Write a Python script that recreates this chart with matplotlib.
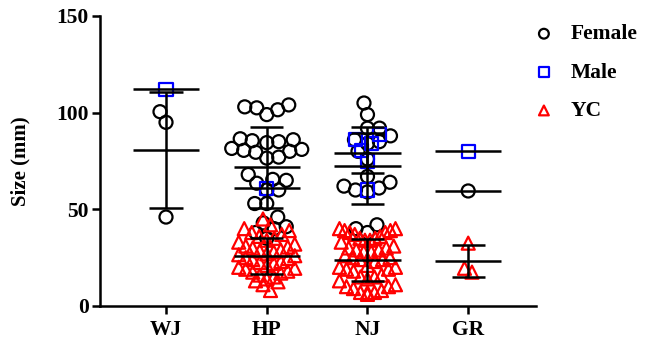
import numpy as np
import matplotlib.pyplot as plt

plt.rcParams['font.family'] = ['Liberation Serif', 'DejaVu Serif']
plt.rcParams['font.weight'] = 'bold'

categories = ["WJ", "HP", "NJ", "GR"]

wj_female = [100.5, 95, 46]
wj_male = [112]
wj_yc = []

hp_female = [104, 103, 102.5, 101.5, 99, 86.5, 86, 85.5, 85, 84.5, 81.5, 81, 80.5, 80, 79.5,
             77, 76.5, 68, 65.5, 65, 63.5, 60, 60, 53, 53, 46, 43, 41, 40, 38, 35]
hp_male = [61]
hp_yc = [8, 11, 12.5, 13, 14, 15, 16, 17, 17.5, 18, 19, 19.5, 20, 21, 22, 22.5, 23, 24, 24.5, 25,
         26, 26.5, 27, 28, 28.5, 29, 30, 30.5, 31, 32, 33, 34, 35, 36, 37, 38, 39, 40, 42, 45]

nj_female = [105, 99, 92, 92, 88, 86, 85, 84, 80, 76, 67, 64, 62, 61, 60, 59, 42, 40, 38]
nj_male = [88.5, 86, 84, 80.5, 75, 60]
nj_yc = [40, 40, 39, 39, 38, 38, 37, 36, 35, 35, 34, 34, 33, 31, 30, 30, 29, 29, 28, 28,
         26, 25, 25, 24, 24, 23, 21, 20, 20, 19, 19, 18, 16, 15, 15, 14, 13, 11, 10, 10,
         9, 8, 7, 7, 6, 7]

gr_female = [59.5]
gr_male = [80]
gr_yc = [32.5, 17.5, 19.5]

female = [wj_female, hp_female, nj_female, gr_female]
male = [wj_male, hp_male, nj_male, gr_male]
yc = [wj_yc, hp_yc, nj_yc, gr_yc]


def swarm_offsets(values, min_d, ypx):
    # beeswarm in pixel space, returns x offsets in pixels
    vals = np.asarray(values, dtype=float)
    offs = np.zeros(len(vals))
    placed = []
    side = -1
    for i in np.argsort(vals, kind="stable"):
        y = vals[i] * ypx
        k = 0
        x = None
        while x is None:
            cands = [0.0] if k == 0 else [side * k * 0.5, -side * k * 0.5]
            for c in cands:
                if all((c - px) ** 2 + (y - py) ** 2 >= min_d ** 2 for px, py in placed):
                    x = c
                    break
            k += 1
        if x != 0:
            side = -np.sign(x)
        placed.append((x, y))
        offs[i] = x
    return offs


def row_offsets(values, bin_px, ypx, spacing, max_width):
    # values binned in y, each bin spread sideways, rows squeezed to max_width
    vals = np.asarray(values, dtype=float)
    bins = np.floor(vals * ypx / bin_px).astype(int)
    offs = np.zeros(len(vals))
    for b in np.unique(bins):
        idx = np.where(bins == b)[0]
        idx = idx[np.argsort(vals[idx], kind="stable")]
        n = len(idx)
        step = spacing if n < 2 else min(spacing, max_width / (n - 1))
        pos = (np.arange(n) - (n - 1) / 2) * step
        pos = pos[np.argsort(np.abs(pos) + 1e-6 * np.arange(n)[::-1], kind="stable")]
        offs[idx] = pos
    return offs


fig = plt.figure(figsize=(6.47, 3.47), dpi=100)
ax = fig.add_axes([0.1546, 0.1182, 0.674, 0.8357])
ax.set_xlim(-0.655, 3.674)
ax.set_ylim(0, 150)

# pixels per data unit
p0 = ax.transData.transform((0, 0))
p1 = ax.transData.transform((1, 1))
xpx = p1[0] - p0[0]
ypx = p1[1] - p0[1]

styles = [
    ("Female", female, "o", "black"),
    ("YC", yc, "^", "#ff0000"),
    ("Male", male, "s", "#0000ff"),
]

handles = {}
for label, groups, marker, color in styles:
    for idx, vals in enumerate(groups):
        if len(vals) == 0:
            continue
        if marker == "^":
            offs = row_offsets(vals, 13, ypx, 7.5, 56)
        else:
            offs = swarm_offsets(vals, 12, ypx)
        h = ax.scatter(idx + offs / xpx, vals, s=88, marker=marker, facecolors="none",
                       edgecolors=color, linewidths=1.6, zorder=2, label=label)
        handles[label] = h

        mean = np.mean(vals)
        ax.hlines(mean, idx - 0.328, idx + 0.328, color="black", lw=1.8, zorder=3)
        if len(vals) > 1:
            sd = np.std(vals, ddof=1)
            ax.vlines(idx, mean - sd, mean + sd, color="black", lw=1.8, zorder=3)
            ax.hlines([mean - sd, mean + sd], idx - 0.164, idx + 0.164, color="black", lw=1.8, zorder=3)

ax.spines["top"].set_visible(False)
ax.spines["right"].set_visible(False)
ax.spines["left"].set_linewidth(1.8)
ax.spines["bottom"].set_linewidth(1.8)
ax.set_xticks(range(len(categories)))
ax.set_xticklabels(categories)
ax.set_yticks([0, 50, 100, 150])
ax.tick_params(axis="both", width=1.8, length=6, labelsize=15.5)
ax.tick_params(axis="x", pad=4)
ax.tick_params(axis="y", pad=2)
ax.set_ylabel("Size (mm)", fontsize=15, fontweight="bold", labelpad=19)

order = ["Female", "Male", "YC"]
ax.legend([handles[k] for k in order], order, loc="upper left", bbox_to_anchor=(0.824, 0.93),
          bbox_transform=fig.transFigure, frameon=False, borderpad=0, borderaxespad=0,
          handlelength=1.0, handletextpad=0.75, labelspacing=0.85, markerscale=0.75,
          prop={"size": 15.5, "weight": "bold"})

fig.savefig("out.png", dpi=100)
